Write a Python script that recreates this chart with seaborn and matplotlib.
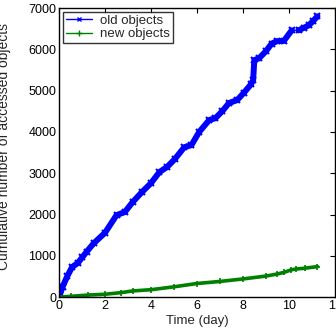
import numpy as np
import pandas as pd
import seaborn as sns
import matplotlib.pyplot as plt
from matplotlib.lines import Line2D

# cumulative number of accessed objects over time
old_t = [0, 0.15, 0.35, 0.56, 0.82, 1.0, 1.2, 1.5, 2.0, 2.5, 2.86, 3.2, 3.6, 4.0,
         4.37, 4.7, 5.05, 5.45, 5.76, 6.1, 6.54, 6.8, 7.1, 7.4, 7.75, 8.05, 8.35,
         8.45, 8.5, 8.7, 9.0, 9.26, 9.5, 9.78, 10.13, 10.43, 10.65, 10.87, 11.05, 11.25]
old_v = [0, 250, 500, 726, 830, 960, 1100, 1300, 1560, 1985, 2060, 2300, 2540, 2760,
         3030, 3150, 3350, 3630, 3680, 4000, 4290, 4330, 4500, 4700, 4770, 4950, 5150,
         5250, 5740, 5780, 5950, 6140, 6200, 6200, 6460, 6460, 6520, 6580, 6680, 6800]

new_t = [0, 0.5, 1.25, 2.0, 2.7, 3.2, 4.0, 5.0, 6.0, 7.0, 8.0, 9.0, 9.5, 9.8,
         10.1, 10.3, 10.7, 11.25]
new_v = [0, 20, 50, 70, 110, 150, 180, 250, 330, 380, 440, 510, 560, 600,
         660, 680, 700, 740]

x_ticks = [0, 2, 4, 6, 8, 10, 12]
y_ticks = [0, 1000, 2000, 3000, 4000, 5000, 6000, 7000]

sns.set_style("white")
plt.rcParams['font.family'] = ['Liberation Sans', 'DejaVu Sans']
plt.rcParams['xtick.direction'] = 'in'
plt.rcParams['ytick.direction'] = 'in'

old = pd.DataFrame({'t': old_t, 'v': old_v})
new = pd.DataFrame({'t': new_t, 'v': new_v})
# markers are missing on the stretch after t=10.13 in the original
old['seg'] = np.where(old['t'] <= 10.13, 0, 1)

fig = plt.figure(figsize=(3.36, 3.35), dpi=100)
ax = fig.add_axes([0.176, 0.113, 0.82, 0.863])

sns.lineplot(x='t', y='v', data=old, color='blue', lw=1, estimator=None, sort=False, ax=ax)
for s, part in old.groupby('seg'):
    sns.lineplot(x='t', y='v', data=part, color='blue', lw=4.3, marker='x', ms=4,
                 mew=1.5, mec='blue', solid_joinstyle='round', solid_capstyle='round',
                 estimator=None, sort=False, ax=ax)
sns.lineplot(x='t', y='v', data=new, color='green', lw=2.6, marker='+', ms=5,
             mew=1.2, mec='green', solid_joinstyle='round', estimator=None,
             sort=False, ax=ax)

ax.set_xlim(0, 12)
ax.set_ylim(0, 7000)
ax.set_xticks(x_ticks)
ax.set_yticks(y_ticks)
ax.tick_params(labelsize=9, length=3.5, width=0.8, top=True, right=True,
               colors='black', pad=2)
for sp in ax.spines.values():
    sp.set_color('black')
    sp.set_linewidth(1.0)

ax.set_xlabel('Time (day)', fontsize=9.5, labelpad=2)
ax.set_ylabel('Cumulative number of accessed objects', fontsize=10, labelpad=0)
ax.yaxis.set_label_coords(-0.175, 0.52)

handles = [Line2D([], [], color='blue', lw=1, marker='x', ms=3),
           Line2D([], [], color='green', lw=1, marker='+', ms=4)]
leg = ax.legend(handles, ['old objects', 'new objects'], loc='upper left',
                fontsize=9.5, frameon=True, fancybox=False, borderaxespad=0.3,
                handlelength=2.0, labelspacing=0.1, borderpad=0.2, handletextpad=0.6)
leg.get_frame().set_edgecolor('black')
leg.get_frame().set_linewidth(1.0)

fig.savefig('out.png', dpi=100)
